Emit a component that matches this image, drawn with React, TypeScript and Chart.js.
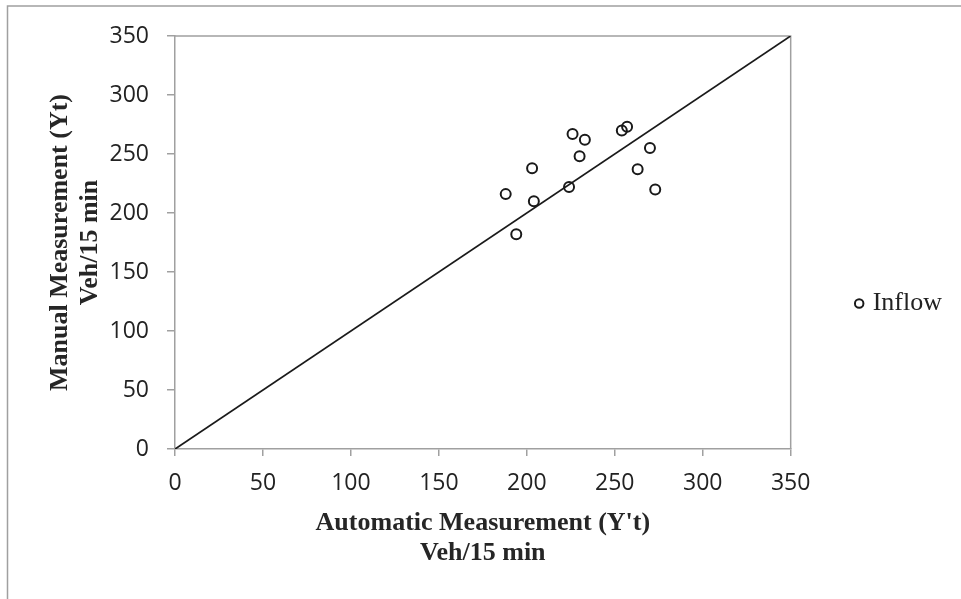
import React, { useEffect, useRef } from "react";
import { Chart, registerables } from "chart.js";

Chart.register(...registerables);

const automaticValues = [188, 194, 203, 204, 224, 226, 230, 233, 254, 257, 263, 270, 273];
const manualValues = [216, 182, 238, 210, 222, 267, 248, 262, 270, 273, 237, 255, 220];
const lineX = [0, 350];
const lineY = [0, 350];
const seriesLabel = "Inflow";
const xTitle = ["Automatic Measurement (Y't)", "Veh/15 min"];
const yTitle = ["Manual Measurement (Yt)", "Veh/15 min"];

const AXIS_GRAY = "#a0a0a0";

const framePlugin = {
  id: "frame",
  beforeDraw(chart: any) {
    const { ctx, chartArea } = chart;
    ctx.save();
    ctx.strokeStyle = AXIS_GRAY;
    ctx.lineWidth = 1.5;
    ctx.beginPath();
    ctx.moveTo(7.5, 599);
    ctx.lineTo(7.5, 6);
    ctx.lineTo(961, 6);
    ctx.stroke();
    ctx.beginPath();
    ctx.moveTo(chartArea.left, chartArea.top);
    ctx.lineTo(chartArea.right, chartArea.top);
    ctx.lineTo(chartArea.right, chartArea.bottom);
    ctx.stroke();
    ctx.restore();
  },
};

export default function App() {
  const ref = useRef<HTMLCanvasElement | null>(null);
  useEffect(() => {
    if (!ref.current) return;
    const points = automaticValues.map((x, i) => ({ x, y: manualValues[i] }));
    const line = lineX.map((x, i) => ({ x, y: lineY[i] }));
    const chart = new Chart(ref.current, {
      type: "scatter",
      data: {
        datasets: [
          {
            label: seriesLabel,
            data: points,
            pointStyle: "circle",
            pointRadius: 5,
            pointBorderWidth: 2,
            borderColor: "#1a1a1a",
            backgroundColor: "rgba(255,255,255,0)",
            borderWidth: 2,
          },
          {
            label: "line",
            type: "line",
            data: line,
            showLine: true,
            pointRadius: 0,
            borderColor: "#1a1a1a",
            borderWidth: 1.8,
            fill: false,
          } as any,
        ],
      },
      options: {
        animation: false,
        responsive: false,
        devicePixelRatio: 1,
        layout: { padding: { top: 36, left: 0, right: 9, bottom: 28 } },
        plugins: {
          tooltip: { enabled: false },
          legend: {
            position: "right",
            labels: {
              filter: (item: any) => item.text === seriesLabel,
              usePointStyle: true,
              boxWidth: 1,
              boxHeight: 6,
              padding: 68,
              color: "#222",
              font: { family: "'Liberation Serif', serif", size: 26 },
            },
          },
        },
        scales: {
          x: {
            type: "linear",
            min: 0,
            max: 350,
            ticks: {
              stepSize: 50,
              padding: 14,
              color: "#222",
              font: { family: "'Open Sans', sans-serif", size: 23 },
            },
            grid: { drawOnChartArea: false, tickLength: 7, color: AXIS_GRAY, lineWidth: 1.5 },
            border: { color: AXIS_GRAY, width: 1.5 },
            title: {
              display: true,
              text: xTitle,
              color: "#262626",
              font: { family: "'Liberation Serif', serif", size: 26, weight: "bold", lineHeight: 1.15 },
              padding: { top: 0, bottom: 3 },
            },
            afterFit: (scale: any) => {
              scale.height = 122;
            },
          },
          y: {
            type: "linear",
            min: 0,
            max: 350,
            ticks: {
              stepSize: 50,
              padding: 18,
              color: "#222",
              font: { family: "'Open Sans', sans-serif", size: 23 },
            },
            grid: { drawOnChartArea: false, tickLength: 8, color: AXIS_GRAY, lineWidth: 1.5 },
            border: { color: AXIS_GRAY, width: 1.5 },
            title: {
              display: true,
              text: yTitle,
              color: "#262626",
              font: { family: "'Liberation Serif', serif", size: 26, weight: "bold", lineHeight: 1.15 },
              padding: { top: 45, bottom: 0 },
            },
            afterFit: (scale: any) => {
              scale.width = 175;
            },
          },
        },
      },
      plugins: [framePlugin],
    });
    return () => chart.destroy();
  }, []);
  return (
    <div style={{ position: "fixed", left: 0, top: 0, width: 961, height: 599, background: "#fff" }}>
      <canvas ref={ref} width={961} height={599} style={{ width: 961, height: 599, display: "block" }} />
    </div>
  );
}
